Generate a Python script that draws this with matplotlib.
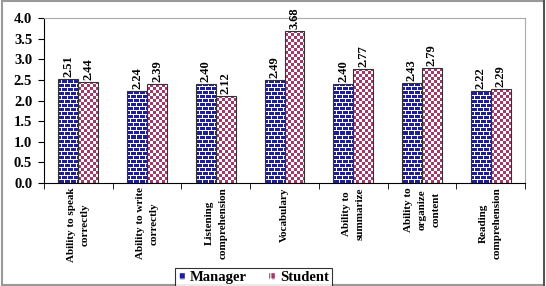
import numpy as np
import matplotlib
matplotlib.use('Agg')
import matplotlib.pyplot as plt
from matplotlib.patches import Patch, Rectangle
from matplotlib.colors import to_rgb

plt.rcParams['font.family'] = 'Liberation Serif'
plt.rcParams['font.weight'] = 'bold'
plt.rcParams['hatch.linewidth'] = 0.8

categories = ['Ability to speak\ncorrectly', 'Ability to write\ncorrectly',
              'Listening\ncomprehension', 'Vocabulary', 'Ability to\nsummarize',
              'Ability to\norganize\ncontent', 'Reading\ncomprehension']
manager = [2.51, 2.24, 2.40, 2.49, 2.40, 2.43, 2.22]
student = [2.44, 2.39, 2.12, 3.68, 2.77, 2.79, 2.29]
yticks = [0.0, 0.5, 1.0, 1.5, 2.0, 2.5, 3.0, 3.5, 4.0]

navy = '#1e1e9a'
maroon = '#a3386b'


def brick(h, w):
    """navy bricks with white mortar, 4px rows, 6px bricks"""
    yy, xx = np.mgrid[0:h, 0:w]
    row = yy // 4
    white = (yy % 4 == 3) | ((xx + (row % 2) * 3) % 6 == 0)
    img = np.empty((h, w, 3))
    img[:] = to_rgb(navy)
    img[white] = (1, 1, 1)
    return img


def checker(h, w):
    yy, xx = np.mgrid[0:h, 0:w]
    white = ((yy // 3) + (xx // 3)) % 2 == 0
    img = np.empty((h, w, 3))
    img[:] = to_rgb(maroon)
    img[white] = (1, 1, 1)
    return img


fig = plt.figure(figsize=(5.46, 2.86), dpi=100)
ax = fig.add_axes([0.0806, 0.36, 0.881, 0.577])

x = np.arange(len(categories))
w = 0.29
ax.set_xlim(-0.5, len(categories) - 0.5)
ax.set_ylim(0, 4.0)

pos = ax.get_position()
px_x = pos.width * fig.get_figwidth() * fig.dpi / len(categories)
px_y = pos.height * fig.get_figheight() * fig.dpi / 4.0

# bars: pixel pattern image clipped to each bar, outline drawn on top
for vals, off, pattern in [(manager, -w/2, brick), (student, w/2, checker)]:
    bars = ax.bar(x + off, vals, w, color='white', linewidth=0)
    for b, v in zip(bars, vals):
        l = b.get_x()
        hp = max(int(round(v * px_y)), 1)
        wp = max(int(round(w * px_x)), 1)
        im = ax.imshow(pattern(hp, wp), origin='lower', extent=(l, l + w, 0, v),
                       interpolation='nearest', aspect='auto', zorder=2)
        im.set_clip_path(b)
    ax.bar(x + off, vals, w, fill=False, edgecolor='#333333', linewidth=0.8, zorder=3)

for i in range(len(categories)):
    ax.text(x[i] - w/2, manager[i] + 0.05, '%.2f' % manager[i], rotation=90,
            ha='center', va='bottom', fontsize=9)
    ax.text(x[i] + w/2, student[i] + 0.05, '%.2f' % student[i], rotation=90,
            ha='center', va='bottom', fontsize=9)

ax.set_xlim(-0.5, len(categories) - 0.5)
ax.set_ylim(0, 4.0)
ax.set_aspect('auto')
ax.set_yticks(yticks)
ax.set_yticklabels(['%.1f' % v for v in yticks], fontsize=10.5)

# category labels at centers, tick marks at boundaries
ax.set_xticks(x)
ax.set_xticklabels(categories, rotation=90, fontsize=8, linespacing=1.7)
ax.tick_params(axis='x', which='major', length=0, pad=3)
ax.set_xticks(np.arange(len(categories) + 1) - 0.5, minor=True)
ax.tick_params(axis='x', which='minor', length=4, direction='out')
ax.tick_params(axis='y', length=4, direction='out', pad=4.5)

ax.spines['top'].set_color('#aaaaaa')
ax.spines['right'].set_color('#aaaaaa')
ax.spines['left'].set_color('black')
ax.spines['bottom'].set_color('black')

h1 = Patch(facecolor=navy, edgecolor='white', hatch='++')
h2 = Patch(facecolor=maroon, edgecolor='white', hatch='++')
leg = fig.legend([h1, h2], ['Manager', 'Student'], loc='lower center',
                 bbox_to_anchor=(0.464, -0.004), ncol=2, fontsize=10.5,
                 frameon=True, fancybox=False, edgecolor='black',
                 handlelength=0.5, handleheight=0.5, handletextpad=0.35,
                 columnspacing=1.4, borderpad=0.2, borderaxespad=0.0)
leg.get_frame().set_linewidth(0.8)

fig.patches.append(Rectangle((0.003, 0.005), 0.994, 0.99, transform=fig.transFigure,
                             fill=False, edgecolor='#999999', linewidth=1.5))
fig.patches.append(Rectangle((0.9945, 0.0), 0.004, 1.0, transform=fig.transFigure,
                             facecolor='#555555', edgecolor='none'))

fig.savefig('out.png', dpi=100)
